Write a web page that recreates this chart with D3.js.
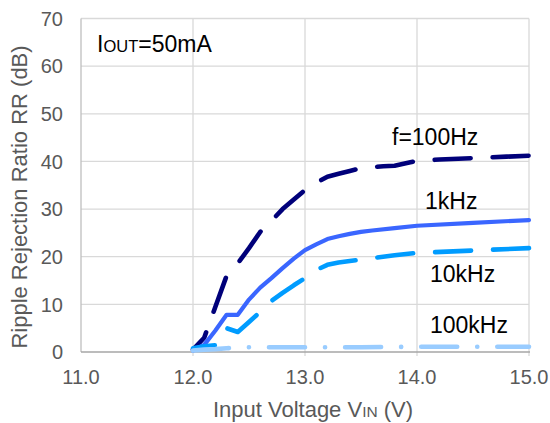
<!DOCTYPE html>
<html>
<head>
<meta charset="utf-8">
<script src="https://cdn.jsdelivr.net/npm/d3@7"></script>
<style>
  html, body { margin: 0; padding: 0; background: #fff; }
  svg { display: block; font-family: "Liberation Sans", Arial, sans-serif; }
</style>
</head>
<body>
<svg id="chart" width="550" height="423"></svg>
<script>
// ---- data ----
const xTicks = [11.0, 12.0, 13.0, 14.0, 15.0];
const yTicks = [0, 10, 20, 30, 40, 50, 60, 70];

const vin100Hz = [12.0, 12.1, 12.2, 12.3, 12.4, 12.5, 12.6, 12.7, 12.8, 12.9, 13.0, 13.1, 13.2, 13.3, 13.4, 13.5, 13.6, 13.7, 13.8, 13.9, 14.0, 14.2, 14.5, 14.8, 15.0];
const rr100Hz  = [0.5, 3.0, 9.5, 16.0, 18.6, 21.8, 25.2, 27.5, 30.0, 32.0, 34.0, 35.5, 36.8, 37.4, 38.0, 38.6, 38.8, 39.0, 39.1, 39.6, 40.1, 40.4, 40.7, 41.0, 41.2];

const vin1kHz = [12.0, 12.1, 12.2, 12.3, 12.4, 12.5, 12.6, 12.7, 12.8, 12.9, 13.0, 13.1, 13.2, 13.3, 13.4, 13.5, 13.6, 13.8, 14.0, 14.5, 15.0];
const rr1kHz  = [0.3, 1.5, 4.5, 7.8, 7.8, 11.0, 13.5, 15.5, 17.6, 19.6, 21.4, 22.6, 23.7, 24.3, 24.8, 25.2, 25.5, 26.0, 26.5, 27.1, 27.7];

const vin10kHz = [12.0, 12.1, 12.2, 12.3, 12.4, 12.5, 12.6, 12.7, 12.8, 12.9, 13.0, 13.1, 13.2, 13.3, 13.4, 13.5, 13.6, 13.8, 14.0, 14.5, 15.0];
const rr10kHz  = [0.8, 1.2, 1.4, 5.0, 4.2, 6.3, 8.4, 10.7, 12.4, 14.0, 15.5, 17.2, 18.3, 18.8, 19.1, 19.4, 19.7, 20.3, 20.8, 21.3, 21.8];

const vin100kHz = [12.0, 12.1, 12.2, 12.3, 12.4, 12.5, 13.0, 13.5, 14.0, 14.5, 15.0];
const rr100kHz  = [0.3, 0.5, 0.6, 0.8, 0.9, 1.0, 1.0, 1.0, 1.1, 1.1, 1.1];

const seriesNames = ["f=100Hz", "1kHz", "10kHz", "100kHz"];

// ---- layout ----
const svg = d3.select("#chart");
const x = d3.scaleLinear().domain([11, 15]).range([81, 529]);
const y = d3.scaleLinear().domain([0, 70]).range([352, 18.5]);

// gridlines
svg.append("g").selectAll("line.h").data(yTicks.filter(d => d > 0)).join("line")
  .attr("x1", x(11)).attr("x2", x(15))
  .attr("y1", d => y(d)).attr("y2", d => y(d))
  .attr("stroke", "#d9d9d9").attr("stroke-width", 1.3);
svg.append("g").selectAll("line.v").data(xTicks.filter(d => d > 11)).join("line")
  .attr("x1", d => x(d)).attr("x2", d => x(d))
  .attr("y1", y(70)).attr("y2", y(0) + 4)
  .attr("stroke", "#d9d9d9").attr("stroke-width", 1.3);

// axes lines
svg.append("line").attr("x1", x(11)).attr("x2", x(11)).attr("y1", y(70)).attr("y2", y(0))
  .attr("stroke", "#bfbfbf").attr("stroke-width", 1.3);
svg.append("line").attr("x1", x(11)).attr("x2", x(15) + 1).attr("y1", y(0)).attr("y2", y(0))
  .attr("stroke", "#a6a6a6").attr("stroke-width", 1.5);

// tick labels
svg.append("g").selectAll("text").data(yTicks).join("text")
  .attr("x", 63).attr("y", d => y(d)).attr("dy", "0.36em")
  .attr("text-anchor", "end").attr("font-size", 20).attr("fill", "#595959")
  .text(d => d);
svg.append("g").selectAll("text").data(xTicks).join("text")
  .attr("x", d => x(d)).attr("y", 384)
  .attr("text-anchor", "middle").attr("font-size", 20).attr("fill", "#595959")
  .text(d => d.toFixed(1));

// axis titles
const xt = svg.append("text").attr("x", 313).attr("y", 417)
  .attr("text-anchor", "middle").attr("font-size", 22).attr("fill", "#595959");
xt.append("tspan").text("Input Voltage V");
xt.append("tspan").attr("font-size", 15.5).text("IN");
xt.append("tspan").text(" (V)");

svg.append("text").attr("transform", "translate(27,197) rotate(-90)")
  .attr("text-anchor", "middle").attr("font-size", 22).attr("fill", "#595959")
  .text("Ripple Rejection Ratio RR (dB)");

// series
const line = d3.line().x(d => x(d[0])).y(d => y(d[1]));
const series = [
  { vin: vin100Hz, rr: rr100Hz, color: "#00007a", dash: "36,22", off: 14, w: 4.6 },
  { vin: vin1kHz, rr: rr1kHz, color: "#3a66ff", dash: null, off: 0, w: 4.2 },
  { vin: vin10kHz, rr: rr10kHz, color: "#009cff", dash: "36,22", off: 14, w: 4.6 },
  { vin: vin100kHz, rr: rr100kHz, color: "#99ccff", dash: "36,20,0.1,20", off: 0, w: 4.6 }
];
series.forEach(s => {
  svg.append("path")
    .datum(s.vin.map((v, i) => [v, s.rr[i]]))
    .attr("d", line)
    .attr("fill", "none")
    .attr("stroke", s.color)
    .attr("stroke-width", s.w)
    .attr("stroke-linecap", "round")
    .attr("stroke-linejoin", "round")
    .attr("stroke-dasharray", s.dash)
    .attr("stroke-dashoffset", s.off);
});

// annotations
const ann = svg.append("text").attr("x", 97).attr("y", 52).attr("font-size", 23).attr("fill", "#000");
ann.append("tspan").text("I");
ann.append("tspan").attr("font-size", 16.5).text("OUT");
ann.append("tspan").text("=50mA");

const labelPos = [[392, 145], [425, 209], [430, 282], [430, 333]];
svg.append("g").selectAll("text").data(seriesNames).join("text")
  .attr("x", (d, i) => labelPos[i][0]).attr("y", (d, i) => labelPos[i][1])
  .attr("font-size", 23).attr("fill", "#000")
  .text(d => d);
</script>
</body>
</html>
